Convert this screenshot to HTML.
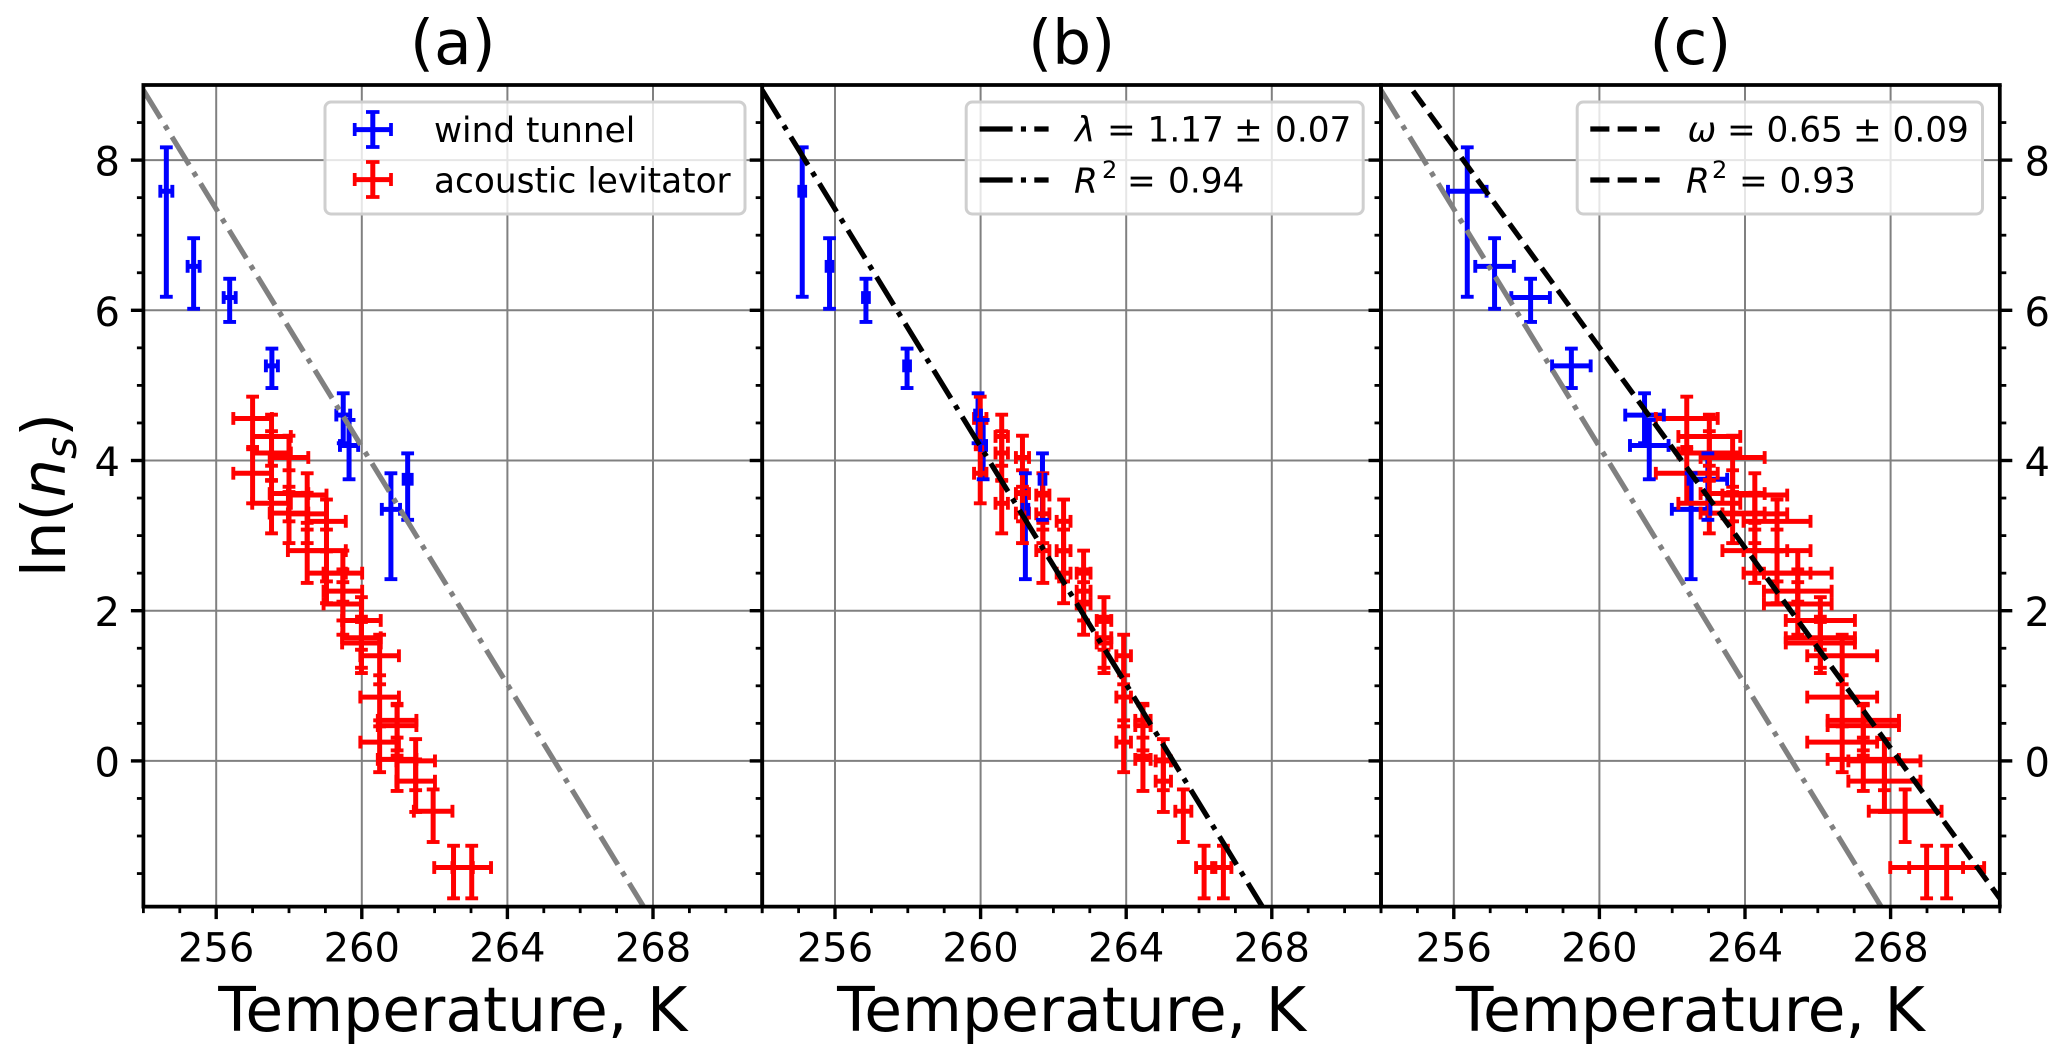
<!DOCTYPE html>
<html lang="en">
<head>
<meta charset="utf-8">
<title>ln(ns) versus temperature, panels a, b and c</title>
<style>
html,body{margin:0;padding:0;background:#fff;width:2067px;height:1062px;overflow:hidden}
svg{display:block}
text{font-family:"DejaVu Sans","Liberation Sans",sans-serif;fill:#000}
</style>
</head>
<body>
<svg id="fig" xmlns="http://www.w3.org/2000/svg" width="2067" height="1062" viewBox="0 0 2067 1062">
  <rect x="0" y="0" width="2067" height="1062" fill="#fff"/>
  <defs>
    <clipPath id="clip-a"><rect x="143.4" y="85" width="618.8" height="821.6"/></clipPath>
    <clipPath id="clip-b"><rect x="762.2" y="85" width="618.8" height="821.6"/></clipPath>
    <clipPath id="clip-c"><rect x="1381" y="85" width="618.8" height="821.6"/></clipPath>
  </defs>
  <g id="layer-grid"></g>
  <g id="layer-bars"></g>
  <g id="layer-caps"></g>
  <g id="layer-lines"></g>
  <g id="layer-legend">
    <g>
      <rect x="325" y="102" width="420" height="112" rx="6" fill="#fff" fill-opacity="0.8" stroke="#cfcfcf" stroke-width="3"/>
      <g stroke="#0000ff">
        <line x1="354.7" y1="129.6" x2="391" y2="129.6" stroke-width="5"/>
        <line x1="372.8" y1="112" x2="372.8" y2="147" stroke-width="5"/>
        <line x1="354.7" y1="123" x2="354.7" y2="136" stroke-width="3.75"/>
        <line x1="391" y1="123" x2="391" y2="136" stroke-width="3.75"/>
        <line x1="366" y1="112" x2="379.5" y2="112" stroke-width="3.75"/>
        <line x1="366" y1="147" x2="379.5" y2="147" stroke-width="3.75"/>
      </g>
      <text x="434" y="142" font-size="34.3">wind tunnel</text>
      <g stroke="#ff0000">
        <line x1="354.7" y1="179.6" x2="391" y2="179.6" stroke-width="5"/>
        <line x1="372.8" y1="162" x2="372.8" y2="197" stroke-width="5"/>
        <line x1="354.7" y1="173" x2="354.7" y2="186" stroke-width="3.75"/>
        <line x1="391" y1="173" x2="391" y2="186" stroke-width="3.75"/>
        <line x1="366" y1="162" x2="379.5" y2="162" stroke-width="3.75"/>
        <line x1="366" y1="197" x2="379.5" y2="197" stroke-width="3.75"/>
      </g>
      <text x="434" y="192.6" font-size="34.3">acoustic levitator</text>
    </g>
    <g>
      <rect x="966.2" y="102" width="397" height="112" rx="6" fill="#fff" fill-opacity="0.8" stroke="#cfcfcf" stroke-width="3"/>
      <line x1="979.6" y1="129" x2="1048.6" y2="129" stroke="#000" stroke-width="5.2" stroke-dasharray="33 8.3 5.1 8.3"/>
      <text y="141.7" font-size="34.3"><tspan x="1075" font-style="italic">λ</tspan><tspan x="1107">=</tspan><tspan x="1147.5">1.17</tspan><tspan x="1234">±</tspan><tspan x="1275">0.07</tspan></text>
      <line x1="979.6" y1="180" x2="1048.6" y2="180" stroke="#000" stroke-width="5.2" stroke-dasharray="33 8.3 5.1 8.3"/>
      <text y="192.3" font-size="34.3"><tspan x="1074" font-style="italic">R</tspan><tspan x="1102" y="178" font-size="24">2</tspan><tspan x="1127" y="192.3">=</tspan><tspan x="1168">0.94</tspan></text>
    </g>
    <g>
      <rect x="1577.2" y="102" width="405.3" height="112" rx="6" fill="#fff" fill-opacity="0.8" stroke="#cfcfcf" stroke-width="3"/>
      <line x1="1590.3" y1="129" x2="1659.6" y2="129" stroke="#000" stroke-width="5.2" stroke-dasharray="19.1 8.26"/>
      <text y="141.7" font-size="34.3"><tspan x="1687.5" font-style="italic">ω</tspan><tspan x="1727">=</tspan><tspan x="1766.5">0.65</tspan><tspan x="1853">±</tspan><tspan x="1892.5">0.09</tspan></text>
      <line x1="1590.3" y1="180" x2="1659.6" y2="180" stroke="#000" stroke-width="5.2" stroke-dasharray="19.1 8.26"/>
      <text y="192.3" font-size="34.3"><tspan x="1686" font-style="italic">R</tspan><tspan x="1712" y="178" font-size="24">2</tspan><tspan x="1739" y="192.3">=</tspan><tspan x="1779.5">0.93</tspan></text>
    </g>
  </g>
  <g id="layer-axes"></g>
  <text x="452.8" y="64" font-size="61.5" text-anchor="middle">(a)</text>
  <text x="1071.6" y="64" font-size="61.5" text-anchor="middle">(b)</text>
  <text x="1690.4" y="64" font-size="61.5" text-anchor="middle">(c)</text>
  <text x="452.8" y="1031" font-size="61.5" text-anchor="middle">Temperature, K</text>
  <text x="1071.6" y="1031" font-size="61.5" text-anchor="middle">Temperature, K</text>
  <text x="1690.4" y="1031" font-size="61.5" text-anchor="middle">Temperature, K</text>
  <text transform="translate(65 495) rotate(-90)" font-size="61" text-anchor="middle">ln(<tspan font-style="italic">n</tspan><tspan font-style="italic" font-size="42.7" dy="11">s</tspan><tspan dy="-11">)</tspan></text>
</svg>
<script>
// Wind tunnel series (shared ln(ns) values, temperature differs per panel)
const blueY = [7.585, 6.585, 6.17, 5.26, 4.605, 4.20, 3.35, 3.75];
const blueYHi = [8.17, 6.96, 6.42, 5.49, 4.895, 4.54, 3.83, 4.095];
const blueYLo = [6.18, 6.02, 5.845, 4.965, 4.23, 3.75, 2.42, 3.21];
const blueTa = [254.63, 255.38, 256.37, 257.53, 259.49, 259.65, 260.80, 261.26];
const blueTb = [255.10, 255.85, 256.85, 257.98, 259.93, 260.07, 261.23, 261.70];
const blueTc = [256.37, 257.12, 258.11, 259.23, 261.24, 261.37, 262.52, 262.98];
const blueXerrA = [0.165, 0.165, 0.165, 0.165, 0.19, 0.25, 0.25, 0.11];
const blueXerrB = [0.08, 0.08, 0.08, 0.08, 0.08, 0.08, 0.08, 0.08];
const blueXerrC = [0.53, 0.53, 0.53, 0.53, 0.53, 0.53, 0.53, 0.53];

// Acoustic levitator series
const redY = [4.56,3.83, 4.32,4.10,3.43, 4.04,3.56,3.30, 3.54,3.29,2.80, 3.19,2.80,2.50, 2.50,2.26,2.09, 1.87,1.64,1.57, 1.40,0.85,0.25, 0.54,0.47,0.02, 0.0,-0.27, -0.67, -1.42,-1.42];
const redYHi = [4.85,4.15, 4.61,4.39,3.74, 4.33,3.87,3.58, 3.83,3.57,3.08, 3.48,3.08,2.80, 2.80,2.55,2.38, 2.18,1.92,1.85, 1.68,1.14,0.54, 0.76,0.74,0.31, 0.29,0.02, -0.38, -1.13,-1.13];
const redYLo = [4.18,3.43, 3.93,3.73,3.03, 3.65,3.19,2.90, 3.17,2.90,2.37, 2.79,2.39,2.10, 2.12,1.87,1.68, 1.48,1.24,1.17, 1.02,0.46,-0.15, 0.14,0.07,-0.40, -0.39,-0.68, -1.08, -1.83,-1.83];
const redTa = [257.0,257.0, 257.52,257.52,257.52, 258.0,258.0,258.0, 258.5,258.5,258.5, 259.03,259.03,259.03, 259.48,259.48,259.48, 259.99,259.99,259.99, 260.49,260.49,260.49, 260.97,260.97,260.97, 261.48,261.48, 261.96, 262.52, 263.02];
const redTb = [259.99,259.99, 260.58,260.58,260.58, 261.15,261.15,261.15, 261.71,261.71,261.71, 262.28,262.28,262.28, 262.83,262.83,262.83, 263.39,263.39,263.39, 263.93,263.93,263.93, 264.46,264.46,264.46, 265.02,265.02, 265.57, 266.14, 266.67];
const redTc = [262.40,262.40, 263.02,263.02,263.02, 263.66,263.66,263.66, 264.27,264.27,264.27, 264.88,264.88,264.88, 265.45,265.45,265.45, 266.07,266.07,266.07, 266.67,266.67,266.67, 267.25,267.25,267.25, 267.83,267.83, 268.40, 268.99, 269.54];
const redXerrA = [0.53,0.53, 0.53,0.53,0.53, 0.53,0.53,0.53, 0.53,0.53,0.53, 0.53,0.53,0.53, 0.53,0.53,0.53, 0.53,0.53,0.53, 0.53,0.53,0.53, 0.53,0.53,0.53, 0.53,0.53, 0.53, 0.53, 0.53];
const redXerrB = [0.17,0.17, 0.17,0.17,0.17, 0.18,0.18,0.18, 0.18,0.18,0.18, 0.19,0.19,0.19, 0.19,0.19,0.19, 0.20,0.20,0.20, 0.20,0.20,0.20, 0.21,0.21,0.21, 0.21,0.21, 0.22, 0.22, 0.22];
const redXerrC = [0.85,0.85, 0.85,0.85,0.85, 0.88,0.88,0.88, 0.89,0.89,0.89, 0.92,0.92,0.92, 0.93,0.93,0.93, 0.95,0.95,0.95, 0.96,0.96,0.96, 0.98,0.98,0.98, 0.99,0.99, 1.00, 1.00, 1.03];

// Fit lines
const grayLineT = [254, 267.74];
const grayLineY = [8.93, -1.94];
const omegaLineT = [254.88, 271];
const omegaLineY = [8.92, -1.83];

// Ticks
const xMajorTicks = [256, 260, 264, 268];
const xMinorTicks = [254,255,257,258,259,261,262,263,265,266,267,269,270,271];
const xTickLabels = ['256', '260', '264', '268'];
const yMajorTicks = [0, 2, 4, 6, 8];
const yMinorTicks = [-1.5,-1,-0.5,0.5,1,1.5,2.5,3,3.5,4.5,5,5.5,6.5,7,7.5,8.5];
const yTickLabels = ['0', '2', '4', '6', '8'];
const panelIds = ['a', 'b', 'c'];

const SVGNS = 'http://www.w3.org/2000/svg';
const PANEL_W = 618.8, TOP = 85, BOTTOM = 906.6, PX_PER_K = 36.4, PX_PER_UNIT = 75.1, Y_ZERO = 760.9;
const panelLeft = {a: 143.4, b: 762.2, c: 1381};
const layerGrid = document.getElementById('layer-grid');
const layerBars = document.getElementById('layer-bars');
const layerCaps = document.getElementById('layer-caps');
const layerLines = document.getElementById('layer-lines');
const layerAxes = document.getElementById('layer-axes');

function xScale(panel, t) { return panelLeft[panel] + (t - 254) * PX_PER_K; }
function yScale(v) { return Y_ZERO - v * PX_PER_UNIT; }

function seg(parent, x1, y1, x2, y2, stroke, width) {
  const l = document.createElementNS(SVGNS, 'line');
  l.setAttribute('x1', x1);
  l.setAttribute('y1', y1);
  l.setAttribute('x2', x2);
  l.setAttribute('y2', y2);
  l.setAttribute('stroke', stroke);
  l.setAttribute('stroke-width', width);
  
  parent.appendChild(l);
  return l;
}

function drawGrid(panel) {
  const L = panelLeft[panel], R = L + PANEL_W;
  xMajorTicks.forEach(function (t) {
    const g = seg(layerGrid, xScale(panel, t), TOP, xScale(panel, t), BOTTOM, '#808080', 2);
    
  });
  yMajorTicks.forEach(function (v) {
    const g = seg(layerGrid, L, yScale(v), R, yScale(v), '#808080', 2);
    
  });
}

function drawBars(panel, series, color, T, Y, YHi, YLo, Xerr) {
  const BAR_W = 5;
  const g = document.createElementNS(SVGNS, 'g');
  
  
  layerBars.appendChild(g);
  T.forEach(function (t, i) {
    const x = xScale(panel, t), y = yScale(Y[i]);
    const v = seg(g, x, yScale(YHi[i]), x, yScale(YLo[i]), color, BAR_W);
    
    const h = seg(g, xScale(panel, t - Xerr[i]), y, xScale(panel, t + Xerr[i]), y, color, BAR_W);
    
  });
}

function drawCaps(panel, series, color, T, Y, YHi, YLo, Xerr) {
  const CAP = 6.4, CAP_W = 3.9;
  const g = document.createElementNS(SVGNS, 'g');
  
  
  layerCaps.appendChild(g);
  T.forEach(function (t, i) {
    const x = xScale(panel, t), y = yScale(Y[i]);
    const c1 = seg(g, x - CAP, yScale(YHi[i]), x + CAP, yScale(YHi[i]), color, CAP_W);
    
    const c2 = seg(g, x - CAP, yScale(YLo[i]), x + CAP, yScale(YLo[i]), color, CAP_W);
    
    const xl = xScale(panel, t - Xerr[i]), xr = xScale(panel, t + Xerr[i]);
    const c3 = seg(g, xl, y - CAP, xl, y + CAP, color, CAP_W);
    
    const c4 = seg(g, xr, y - CAP, xr, y + CAP, color, CAP_W);
    
  });
}

function drawFit(panel, T, Y, color, dash, name) {
  const l = seg(layerLines, xScale(panel, T[0]), yScale(Y[0]), xScale(panel, T[1]), yScale(Y[1]), color, 5.2);
  l.setAttribute('stroke-dasharray', dash);
  l.setAttribute('clip-path', 'url(#clip-' + panel + ')');
  
}

function addText(x, y, str, anchor) {
  const t = document.createElementNS(SVGNS, 'text');
  t.setAttribute('x', x);
  t.setAttribute('y', y);
  t.setAttribute('font-size', 40);
  t.setAttribute('text-anchor', anchor);
  
  t.textContent = str;
  layerAxes.appendChild(t);
  return t;
}

function drawAxes(panel) {
  const L = panelLeft[panel], R = L + PANEL_W;
  const MAJ = 12.5, MIN = 6.5;
  // x ticks
  xMajorTicks.forEach(function (t, i) {
    const x = xScale(panel, t);
    const tk = seg(layerAxes, x, BOTTOM, x, BOTTOM + MAJ, '#000', 3.4);
    
    const lb = addText(x, 961.5, xTickLabels[i], 'middle');
    
  });
  xMinorTicks.forEach(function (t) {
    const x = xScale(panel, t);
    const tk = seg(layerAxes, x, BOTTOM, x, BOTTOM + MIN, '#000', 2.8);
    
  });
  // y ticks on the left of every panel
  yMajorTicks.forEach(function (v, i) {
    const y = yScale(v);
    const tk = seg(layerAxes, L, y, L - MAJ, y, '#000', 3.4);
    
    if (panel === 'a') {
      const lb = addText(120, y + 15.5, yTickLabels[i], 'end');
      
    }
    if (panel === 'c') {
      const tr = seg(layerAxes, R, y, R + MAJ, y, '#000', 3.4);
      
      const lr = addText(2024.5, y + 15.5, yTickLabels[i], 'start');
      
    }
  });
  yMinorTicks.forEach(function (v) {
    const y = yScale(v);
    const tk = seg(layerAxes, L, y, L - MIN, y, '#000', 2.8);
    
    if (panel === 'c') {
      const tr = seg(layerAxes, R, y, R + MIN, y, '#000', 2.8);
      
    }
  });
  // spines
  const sT = seg(layerAxes, L - 1.9, TOP, R + 1.9, TOP, '#000', 3.75);
  
  const sB = seg(layerAxes, L - 1.9, BOTTOM, R + 1.9, BOTTOM, '#000', 3.75);
  
  const sL = seg(layerAxes, L, TOP, L, BOTTOM, '#000', 3.75);
  
  const sR = seg(layerAxes, R, TOP, R, BOTTOM, '#000', 3.75);
  
}

panelIds.forEach(drawGrid);

drawBars('a', 'wind-tunnel', '#0000ff', blueTa, blueY, blueYHi, blueYLo, blueXerrA);
drawBars('b', 'wind-tunnel', '#0000ff', blueTb, blueY, blueYHi, blueYLo, blueXerrB);
drawBars('c', 'wind-tunnel', '#0000ff', blueTc, blueY, blueYHi, blueYLo, blueXerrC);
drawBars('a', 'acoustic-levitator', '#ff0000', redTa, redY, redYHi, redYLo, redXerrA);
drawBars('b', 'acoustic-levitator', '#ff0000', redTb, redY, redYHi, redYLo, redXerrB);
drawBars('c', 'acoustic-levitator', '#ff0000', redTc, redY, redYHi, redYLo, redXerrC);

drawCaps('a', 'acoustic-levitator', '#ff0000', redTa, redY, redYHi, redYLo, redXerrA);
drawCaps('b', 'acoustic-levitator', '#ff0000', redTb, redY, redYHi, redYLo, redXerrB);
drawCaps('c', 'acoustic-levitator', '#ff0000', redTc, redY, redYHi, redYLo, redXerrC);
drawCaps('a', 'wind-tunnel', '#0000ff', blueTa, blueY, blueYHi, blueYLo, blueXerrA);
drawCaps('b', 'wind-tunnel', '#0000ff', blueTb, blueY, blueYHi, blueYLo, blueXerrB);
drawCaps('c', 'wind-tunnel', '#0000ff', blueTc, blueY, blueYHi, blueYLo, blueXerrC);

drawFit('a', grayLineT, grayLineY, '#808080', '33 8.3 5.1 8.3', 'reference-fit-line-a');
drawFit('c', grayLineT, grayLineY, '#808080', '33 8.3 5.1 8.3', 'reference-fit-line-c');
drawFit('b', grayLineT, grayLineY, '#000000', '33 8.3 5.1 8.3', 'lambda-fit-line');
drawFit('c', omegaLineT, omegaLineY, '#000000', '19.1 8.26', 'omega-fit-line');

panelIds.forEach(drawAxes);
</script>
</body>
</html>
